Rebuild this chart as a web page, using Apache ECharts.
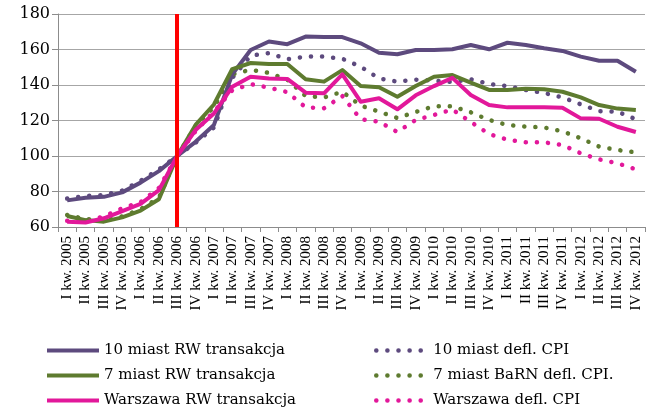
<!DOCTYPE html>
<html>
<head>
<meta charset="utf-8">
<script src="https://cdn.jsdelivr.net/npm/echarts@6/dist/echarts.min.js"></script>
<style>
html,body{margin:0;padding:0;background:#fff;}
#chart{width:650px;height:407px;}
</style>
</head>
<body>
<div id="chart"></div>
<script>
const quarters = [
  'I kw. 2005','II kw. 2005','III kw. 2005','IV kw. 2005',
  'I kw. 2006','II kw. 2006','III kw. 2006','IV kw. 2006',
  'I kw. 2007','II kw. 2007','III kw. 2007','IV kw. 2007',
  'I kw. 2008','II kw. 2008','III kw. 2008','IV kw. 2008',
  'I kw. 2009','II kw. 2009','III kw. 2009','IV kw. 2009',
  'I kw. 2010','II kw. 2010','III kw. 2010','IV kw. 2010',
  'I kw. 2011','II kw. 2011','III kw. 2011','IV kw. 2011',
  'I kw. 2012','II kw. 2012','III kw. 2012','IV kw. 2012'
];
const baseQuarter = 'III kw. 2006';

const miast10RW = [75, 76.5, 77, 79.5, 85, 91.5, 100, 108, 117.5, 146, 159.7, 164.5, 163, 167.3, 167, 167,
  163.5, 158.2, 157.3, 159.7, 159.7, 160.1, 162.5, 160.1, 163.8, 162.5, 160.7, 159.2, 156, 153.7, 153.7, 147.5];
const miast10CPI = [76, 77.5, 78, 80.5, 86, 92.5, 100, 107.5, 116, 144, 156.5, 158, 154.5, 156, 156, 154.8,
  150.3, 143.7, 141.9, 143, 142.4, 141.7, 143.2, 140.6, 139.4, 137.2, 135.5, 133, 129.1, 125.3, 125, 120.7];
const miast7RW = [66.2, 63.9, 63, 65.4, 69.2, 75.6, 100, 117.5, 129, 149, 152.4, 151.8, 151.8, 143.2, 141.9, 148.4,
  139.4, 138.7, 133.4, 139.4, 144.7, 145.6, 141.3, 137.2, 137.2, 137.9, 137.6, 136.2, 133, 128.7, 126.7, 125.9];
const miast7CPI = [66.8, 64.5, 63.5, 66, 70, 76.5, 100, 117, 127.5, 146, 148.6, 146.8, 143, 133.8, 133, 136.2,
  128.4, 125, 121.4, 124.8, 128, 128, 124.6, 120.3, 117.5, 116.5, 116.1, 113.9, 110, 105.3, 103.4, 102];
const warszawaRW = [63, 62.5, 64.9, 69, 73, 80.8, 100, 114.6, 124, 139, 144.7, 143.6, 143.4, 135.7, 135.3, 146,
  130.6, 132.5, 126.3, 134.2, 139.4, 144, 134.4, 128.7, 127.4, 127.4, 127.4, 127.2, 121.2, 121, 116.5, 113.5];
const warszawaCPI = [63.5, 63, 66, 70.5, 74, 82, 100, 114, 125, 137, 140.5, 138.5, 136, 127.4, 126.9, 133.8,
  120.7, 119.3, 113.5, 120.3, 123.1, 126.2, 119.2, 112.4, 109.2, 107.7, 107.7, 106.2, 101.5, 98.1, 95.9, 92.5];

const names = [
  '10 miast RW transakcja', '10 miast defl. CPI',
  '7 miast RW transakcja', '7 miast BaRN defl. CPI.',
  'Warszawa RW transakcja', 'Warszawa defl. CPI'
];
const values = [miast10RW, miast10CPI, miast7RW, miast7CPI, warszawaRW, warszawaCPI];
const colors = ['#5D4A7E', '#5D4A7E', '#5E7B2F', '#5E7B2F', '#E2189A', '#E2189A'];
const dotted = [false, true, false, true, false, true];

const series = values.map(function (v, i) {
  return {
    name: names[i],
    type: 'line',
    data: v,
    symbol: 'none',
    smooth: false,
    z: dotted[i] ? 2 : 3,
    lineStyle: dotted[i]
      ? { color: colors[i], width: 4.5, type: [0.1, 11], cap: 'round' }
      : { color: colors[i], width: 4, type: 'solid', join: 'round' },
    itemStyle: { color: colors[i] }
  };
});
series.push({
  name: 'baseLine',
  type: 'line',
  data: [],
  z: 10,
  markLine: {
    silent: true,
    symbol: 'none',
    label: { show: false },
    lineStyle: { color: '#FF0000', width: 4, type: 'solid' },
    data: [{ xAxis: baseQuarter }]
  }
});

const legendText = { fontFamily: 'DejaVu Serif', fontSize: 15, color: '#000', lineHeight: 14 };

const chart = echarts.init(document.getElementById('chart'), null, { renderer: 'canvas' });
chart.setOption({
  animation: false,
  backgroundColor: '#fff',
  grid: { left: 58, right: 5, top: 14, bottom: 180, containLabel: false },
  xAxis: {
    type: 'category',
    data: quarters,
    boundaryGap: true,
    axisLine: { show: true, lineStyle: { color: '#8C8C8C', width: 1 } },
    axisTick: { show: true, length: 5, interval: 0, lineStyle: { color: '#8C8C8C' } },
    axisLabel: { rotate: 90, interval: 0, margin: 9, fontFamily: 'Liberation Serif', fontSize: 15, color: '#000' },
    splitLine: { show: false }
  },
  yAxis: {
    type: 'value',
    min: 60, max: 180, interval: 20,
    axisLine: { show: true, lineStyle: { color: '#8C8C8C', width: 1 } },
    axisTick: { show: true, length: 6, lineStyle: { color: '#8C8C8C' } },
    axisLabel: { margin: 8, fontFamily: 'DejaVu Serif', fontSize: 16, color: '#000' },
    splitLine: { show: true, lineStyle: { color: '#A6A6A6', width: 1.2 } }
  },
  legend: [
    {
      data: [names[0], names[2], names[4]],
      orient: 'vertical', left: 45, top: 343, height: 150,
      padding: 0,
      itemWidth: 52, itemHeight: 14, itemGap: 10,
      textStyle: legendText,
      itemStyle: { opacity: 0 },
      lineStyle: { width: 4 },
      selectedMode: false
    },
    {
      data: [names[1], names[3], names[5]],
      orient: 'vertical', left: 374, top: 343, height: 150,
      padding: 0,
      itemWidth: 52, itemHeight: 14, itemGap: 10,
      textStyle: legendText,
      itemStyle: { opacity: 0 },
      lineStyle: { width: 4.5 },
      selectedMode: false
    }
  ],
  series: series
});
</script>
</body>
</html>
